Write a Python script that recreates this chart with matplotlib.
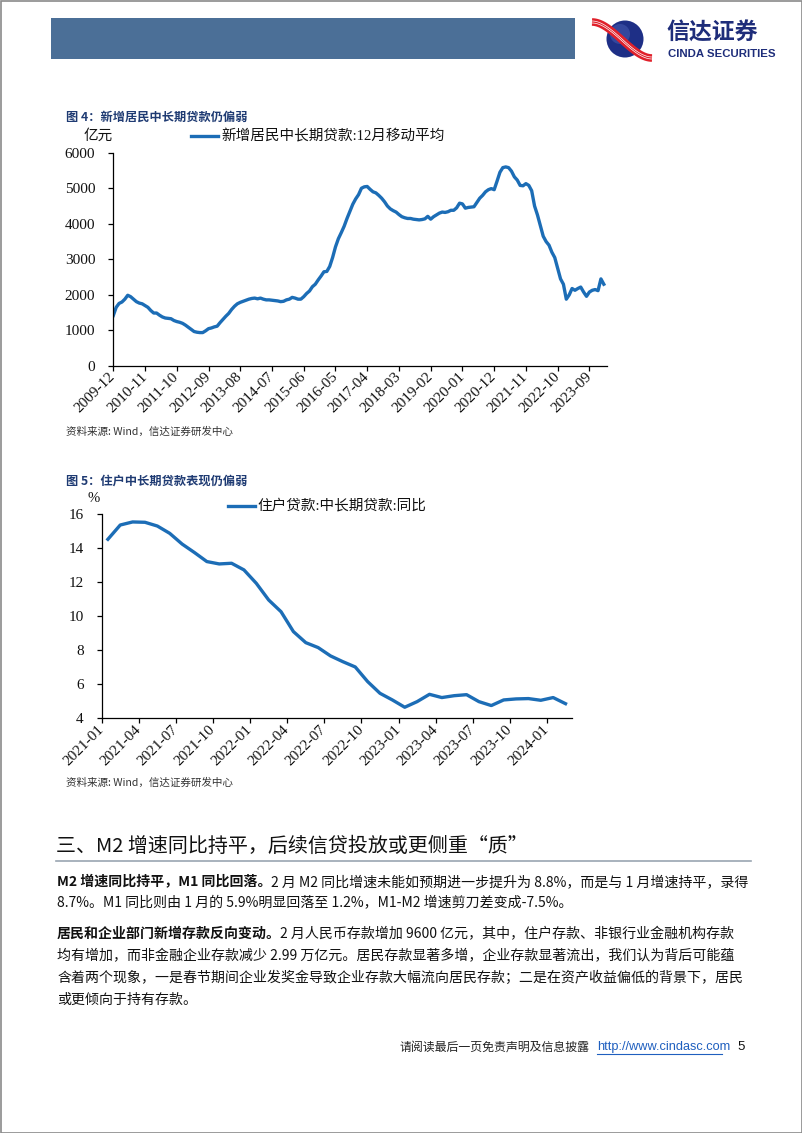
import numpy as np
import pandas as pd
import matplotlib
matplotlib.use("Agg")
import matplotlib.pyplot as plt
from matplotlib.patches import Rectangle, Circle
from matplotlib.font_manager import FontProperties, findfont, get_font

# ---------------- data ----------------
months1 = pd.period_range("2009-12", "2024-02", freq="M").strftime("%Y-%m").tolist()
loan_ma12 = [
    1420, 1650, 1760, 1800, 1880, 1990, 1950, 1880, 1810, 1770,
    1750, 1700, 1650, 1560, 1490, 1490, 1430, 1380, 1350, 1340,
    1330, 1280, 1250, 1230, 1200, 1150, 1090, 1030, 970, 950,
    940, 940, 990, 1050, 1070, 1100, 1120, 1220, 1310, 1400,
    1480, 1590, 1680, 1750, 1790, 1820, 1850, 1880, 1900, 1910,
    1890, 1910, 1880, 1860, 1860, 1850, 1840, 1830, 1810, 1820,
    1860, 1880, 1930, 1910, 1880, 1880, 1950, 2040, 2110, 2230,
    2300, 2420, 2530, 2650, 2660, 2800, 3050, 3350, 3580, 3750,
    3930, 4150, 4350, 4550, 4700, 4820, 5000, 5040, 5050, 4970,
    4900, 4870, 4800, 4720, 4620, 4500, 4420, 4370, 4330, 4260,
    4200, 4170, 4150, 4150, 4130, 4120, 4110, 4120, 4140, 4210,
    4130, 4200, 4250, 4300, 4330, 4320, 4340, 4380, 4380, 4450,
    4580, 4560, 4440, 4460, 4470, 4480, 4600, 4720, 4800, 4900,
    4960, 4990, 4960, 5200, 5450, 5580, 5600, 5580, 5480, 5320,
    5230, 5080, 5070, 5130, 5080, 4930, 4500, 4250, 3950, 3650,
    3500, 3400, 3200, 3050, 2750, 2450, 2300, 1880, 2000, 2180,
    2130, 2180, 2220, 2080, 1960, 2080, 2130, 2150, 2120, 2450,
    2300,
]
ticks1 = ["2009-12", "2010-11", "2011-10", "2012-09", "2013-08", "2014-07",
          "2015-06", "2016-05", "2017-04", "2018-03", "2019-02", "2020-01",
          "2020-12", "2021-11", "2022-10", "2023-09"]

months2 = pd.period_range("2021-01", "2024-02", freq="M").strftime("%Y-%m").tolist()
hh_mlt_yoy = [
    14.53, 15.37, 15.55, 15.53, 15.31, 14.88, 14.25, 13.75, 13.22, 13.08,
    13.12, 12.73, 11.94, 10.96, 10.27, 9.10, 8.45, 8.16, 7.67, 7.33,
    7.02, 6.16, 5.47, 5.08, 4.65, 4.98, 5.41, 5.22, 5.33, 5.39,
    4.98, 4.75, 5.08, 5.14, 5.16, 5.06, 5.22, 4.86,
]
ticks2 = ["2021-01", "2021-04", "2021-07", "2021-10", "2022-01", "2022-04",
          "2022-07", "2022-10", "2023-01", "2023-04", "2023-07", "2023-10",
          "2024-01"]

label1 = "新增居民中长期贷款:12月移动平均"
label2 = "住户贷款:中长期贷款:同比"

# ---------------- style ----------------
W, H = 802, 1133
DPI = 100
CJK = "Noto Sans CJK SC"
SERIF = ["Liberation Serif", CJK]
LINE_C = "#1C6DB6"
NAVY = "#1F3B73"
plt.rcParams["font.family"] = [CJK, "DejaVu Sans"]

fig = plt.figure(figsize=(W / DPI, H / DPI), dpi=DPI)
page = fig.add_axes([0, 0, 1, 1])
page.set_xlim(0, W)
page.set_ylim(H, 0)
page.axis("off")


def adv_width(s, size, bold=False, family=CJK):
    fp = FontProperties(family=family, weight="bold" if bold else "normal")
    f = get_font(findfont(fp))
    f.set_size(size, DPI)
    tot = 0.0
    for ch in s:
        g = f.load_char(ord(ch))
        tot += g.linearHoriAdvance / 65536.0
    return tot


def runs(x, y, parts, size, color="#111111"):
    for s, bold in parts:
        page.text(x, y, s, fontsize=size, fontweight="bold" if bold else "normal",
                  family=[CJK, "DejaVu Sans"], color=color, va="center", ha="left")
        x += adv_width(s, size, bold)


# page border
page.add_patch(Rectangle((0.5, 0.5), W - 1, H - 1, fill=False, ec="#8a8a8a", lw=1.2))

# header bar
page.add_patch(Rectangle((51, 18), 524, 41, fc="#4B6F97", ec="none"))

# logo
page.add_patch(Circle((625, 39), 18.5, fc="#1E2F86", ec="none"))
page.add_patch(Circle((620, 34), 10, fc="#4A60B5", ec="none", alpha=0.5))
t = np.linspace(0, 1, 60)
sx = 592 + 60 * t
sy = 22 + 36 * (3 * t ** 2 - 2 * t ** 3)
page.plot(sx, sy, color="#E0202A", lw=5.5, solid_capstyle="butt")
page.plot(sx, sy - 1.0, color="white", lw=0.5)
page.plot(sx, sy + 1.0, color="white", lw=0.5)
page.text(666, 33.5, "信达证券", fontsize=16.5, fontweight="bold", color="#1E2D7A",
          va="center", ha="left", family=[CJK])
page.text(668, 54, "CINDA SECURITIES", fontsize=8.2, fontweight="bold", color="#1E2D7A",
          va="center", ha="left", family=["Liberation Sans"])

# ---------------- chart 1 ----------------
page.text(66, 117, "图 4：新增居民中长期贷款仍偏弱", fontsize=8.8, fontweight="bold",
          color=NAVY, va="center", ha="left")
page.text(84, 136, "亿元", fontsize=10.5, color="#111111", va="center", ha="left")
page.plot([191, 218], [136, 136], color=LINE_C, lw=2.4)
page.text(221, 136, label1, fontsize=10.5, family=SERIF, color="#111111",
          va="center", ha="left")

x0, x1, yb, yt = 113.3, 606.7, 366.0, 152.7
ax1 = fig.add_axes([x0 / W, 1 - yb / H, (x1 - x0) / W, (yb - yt) / H])
xi = np.arange(len(loan_ma12))
ax1.plot(xi, loan_ma12, color=LINE_C, lw=2.4, solid_joinstyle="round")
ax1.set_xlim(0, len(loan_ma12))
ax1.set_ylim(0, 6000)
ax1.set_yticks(np.arange(0, 6001, 1000))
ax1.set_xticks([months1.index(m) for m in ticks1])
ax1.set_xticklabels(ticks1)

page.text(66, 432, "资料来源: Wind，信达证券研发中心", fontsize=7.6, style="italic",
          color="#333333", va="center", ha="left")

# ---------------- chart 2 ----------------
page.text(66, 481, "图 5：住户中长期贷款表现仍偏弱", fontsize=8.8, fontweight="bold",
          color=NAVY, va="center", ha="left")
page.text(88, 499, "%", fontsize=10.5, family=SERIF, color="#111111", va="center", ha="left")
page.plot([228, 254.5], [506, 506], color=LINE_C, lw=2.4)
page.text(257, 506, label2, fontsize=10.5, family=SERIF, color="#111111",
          va="center", ha="left")

x0, x1, yb, yt = 101.7, 571.7, 718.3, 514.3
ax2 = fig.add_axes([x0 / W, 1 - yb / H, (x1 - x0) / W, (yb - yt) / H])
xj = np.arange(len(hh_mlt_yoy))
ax2.plot(xj, hh_mlt_yoy, color=LINE_C, lw=2.4, solid_joinstyle="round")
ax2.set_xlim(-0.5, len(hh_mlt_yoy) - 0.5)
ax2.set_ylim(4, 16)
ax2.set_yticks(np.arange(4, 17, 2))
ax2.set_xticks([months2.index(m) - 0.5 for m in ticks2])
ax2.set_xticklabels(ticks2)

page.text(66, 783, "资料来源: Wind，信达证券研发中心", fontsize=7.6, style="italic",
          color="#333333", va="center", ha="left")

for ax in (ax1, ax2):
    ax.set_facecolor("none")
    for s in ("top", "right"):
        ax.spines[s].set_visible(False)
    for s in ("left", "bottom"):
        ax.spines[s].set_color("#000000")
        ax.spines[s].set_linewidth(0.9)
    ax.tick_params(axis="both", direction="out", length=3.5, width=0.9, color="#000000")
    ax.tick_params(axis="y", pad=9.5, labelsize=11)
    ax.tick_params(axis="x", pad=3, labelsize=11)
    for lab in ax.get_yticklabels():
        lab.set_fontfamily(SERIF)
        lab.set_color("#111111")
    for lab in ax.get_xticklabels():
        lab.set_fontfamily(SERIF)
        lab.set_color("#111111")
        lab.set_rotation(45)
        lab.set_ha("right")
        lab.set_va("center")
        lab.set_rotation_mode("anchor")

# ---------------- text section ----------------
page.text(56, 846, "三、M2 增速同比持平，后续信贷投放或更侧重“质”", fontsize=14.4,
          color="#111111", va="center", ha="left")
page.plot([56, 751], [861, 861], color="#9AA5B1", lw=1.2)

FS = 10.05
runs(57, 882, [("M2 增速同比持平，M1 同比回落。", True),
               ("2 月 M2 同比增速未能如预期进一步提升为 8.8%，而是与 1 月增速持平，录得", False)], FS)
runs(57, 903, [("8.7%。M1 同比则由 1 月的 5.9%明显回落至 1.2%，M1-M2 增速剪刀差变成-7.5%。", False)], FS)
runs(57, 934, [("居民和企业部门新增存款反向变动。", True),
               ("2 月人民币存款增加 9600 亿元，其中，住户存款、非银行业金融机构存款", False)], FS)
runs(57, 956, [("均有增加，而非金融企业存款减少 2.99 万亿元。居民存款显著多增，企业存款显著流出，我们认为背后可能蕴", False)], FS)
runs(57, 978, [("含着两个现象，一是春节期间企业发奖金导致企业存款大幅流向居民存款；二是在资产收益偏低的背景下，居民", False)], FS)
runs(57, 1000, [("或更倾向于持有存款。", False)], FS)

# footer
page.text(400, 1047, "请阅读最后一页免责声明及信息披露", fontsize=8.6, color="#222222",
          va="center", ha="left")
page.text(597, 1047, "http://www.cindasc.com", fontsize=9.2, color="#1F5FBF",
          va="center", ha="left", family=["Liberation Sans"])
page.plot([597, 722], [1053.5, 1053.5], color="#1F5FBF", lw=0.8)
page.text(737, 1047, "5", fontsize=9.5, color="#111111", va="center", ha="left",
          family=["Liberation Sans"])

fig.savefig("out.png", dpi=DPI)
